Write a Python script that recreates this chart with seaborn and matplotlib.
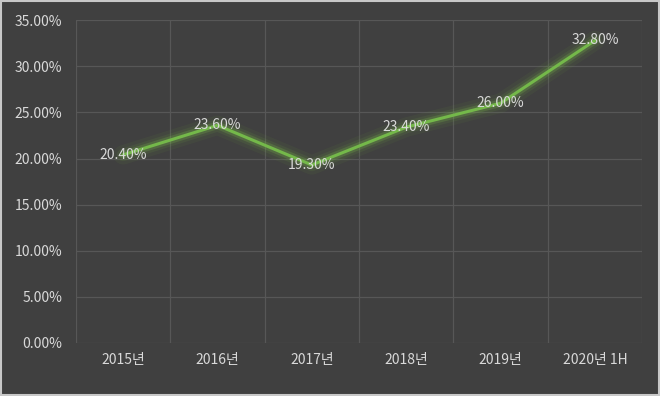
import matplotlib
matplotlib.use("Agg")

import matplotlib.pyplot as plt
import matplotlib.patheffects as pe
import numpy as np
import pandas as pd
import seaborn as sns
from matplotlib.ticker import FixedLocator, PercentFormatter

categories = ["2015년", "2016년", "2017년", "2018년", "2019년", "2020년 1H"]
values = [20.40, 23.60, 19.30, 23.40, 26.00, 32.80]
y_ticks = [0, 5, 10, 15, 20, 25, 30, 35]

BG = "#404040"
GRID = "#575757"
TEXT = "#d9d9d9"
LINE = "#74b84a"

sns.set_theme(style="dark")
plt.rcParams["font.family"] = ["Noto Sans CJK KR", "DejaVu Sans"]

df = pd.DataFrame({"x": np.arange(len(categories)), "value": values})

fig = plt.figure(figsize=(6.6, 3.96), dpi=100, facecolor=BG)
ax = fig.add_axes([0.115, 0.134, 0.858, 0.815])
ax.set_facecolor(BG)

sns.lineplot(data=df, x="x", y="value", ax=ax, color=LINE, linewidth=2.2,
             zorder=3)
line = ax.lines[0]
line.set_path_effects([
    pe.Stroke(linewidth=14, foreground="#6aa33f", alpha=0.08),
    pe.Stroke(linewidth=9, foreground="#6aa33f", alpha=0.13),
    pe.Stroke(linewidth=5.5, foreground="#7cc04a", alpha=0.22),
    pe.Normal(),
])

for i, v in enumerate(values):
    ax.text(i, v, f"{v:.2f}%", ha="center", va="center", color=TEXT,
            fontsize=10, zorder=4)

ax.set_xlim(-0.5, len(categories) - 0.5)
ax.set_ylim(0, 35)
ax.set_xticks(range(len(categories)))
ax.set_xticklabels(categories)
ax.xaxis.set_minor_locator(FixedLocator(np.arange(-0.5, len(categories), 1)))
ax.set_yticks(y_ticks)
ax.yaxis.set_major_formatter(PercentFormatter(decimals=2))

ax.grid(True, which="major", axis="y", color=GRID, linewidth=0.9)
ax.grid(True, which="minor", axis="x", color=GRID, linewidth=0.9)
ax.grid(False, which="major", axis="x")
ax.tick_params(axis="both", which="both", length=0, colors=TEXT, labelsize=10)
ax.tick_params(axis="y", pad=10)
ax.tick_params(axis="x", pad=7)
ax.set_xlabel("")
ax.set_ylabel("")
for s in ax.spines.values():
    s.set_visible(False)

fig.patches.append(plt.Rectangle((0.001, 0.002), 0.997, 0.996,
                                 transform=fig.transFigure, fill=False,
                                 edgecolor="#c8c8c8", linewidth=1.5))

fig.savefig("out.png", dpi=100, facecolor=BG)
